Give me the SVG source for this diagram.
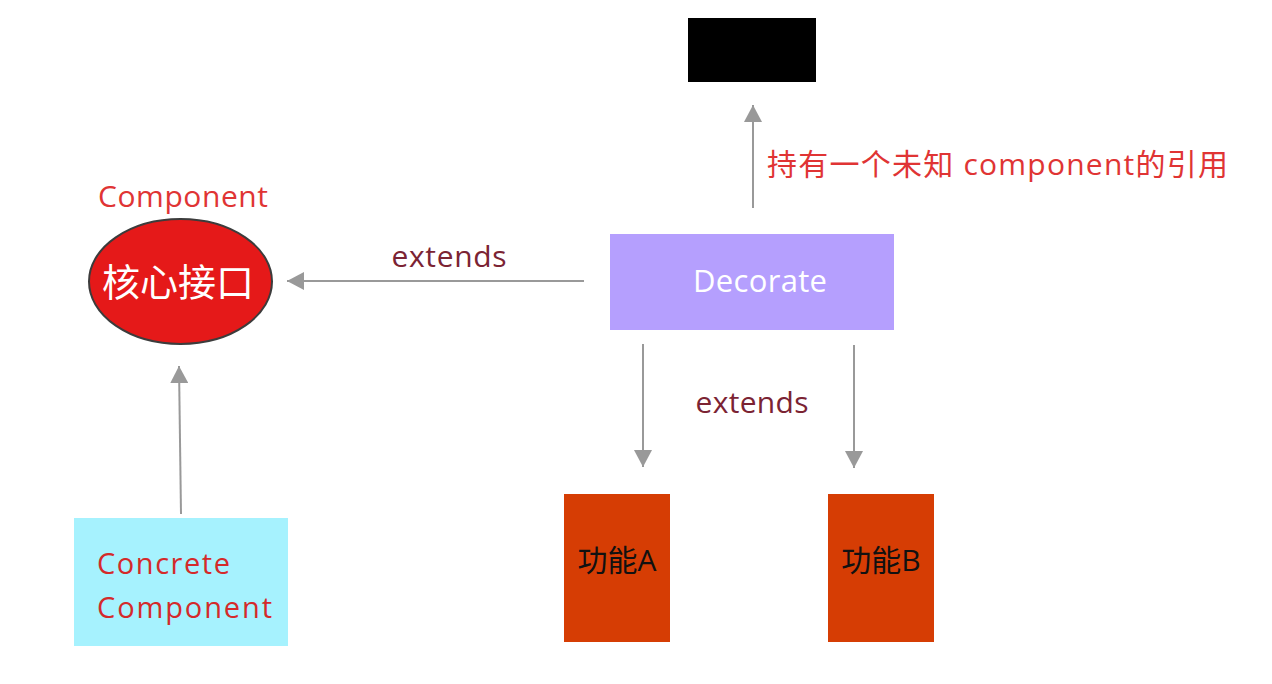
<svg xmlns="http://www.w3.org/2000/svg" width="1272" height="684" viewBox="0 0 1272 684">
<style>
.conn{stroke:#999999;stroke-width:2;fill:none}
.lbl{font-family:"Open Sans","Noto Sans CJK SC",sans-serif;font-size:30px;fill:#7b2333}
.red{font-family:"Open Sans","Noto Sans CJK SC",sans-serif;font-size:30px;fill:#e03434}
.cn{font-family:"Open Sans","Noto Sans CJK SC",sans-serif}
</style>
<defs>
<marker id="ah" markerWidth="17" markerHeight="18" refX="17" refY="9" orient="auto" markerUnits="userSpaceOnUse">
<path d="M0,0 L17,9 L0,18 Z" fill="#999999"/>
</marker>
</defs>
<rect width="1272" height="684" fill="#ffffff"/>
<g id="connectors">
<line class="conn" x1="753" y1="208" x2="753" y2="105" marker-end="url(#ah)"/>
<line class="conn" x1="584" y1="281" x2="287" y2="281" marker-end="url(#ah)"/>
<line class="conn" x1="643" y1="344" x2="643" y2="467" marker-end="url(#ah)"/>
<line class="conn" x1="854" y1="345" x2="854" y2="468" marker-end="url(#ah)"/>
<line class="conn" x1="181" y1="514" x2="179" y2="366" marker-end="url(#ah)"/>
<text class="lbl" x="449" y="267" text-anchor="middle" textLength="115">extends</text>
<text class="lbl" x="752" y="413" text-anchor="middle" textLength="113">extends</text>
<text class="red" x="767" y="175" textLength="461">持有一个未知 component的引用</text>
</g>
<g id="component">
<text class="red" x="183" y="207" text-anchor="middle" textLength="170">Component</text>
<ellipse cx="180.5" cy="281.5" rx="91.5" ry="62.5" fill="#e51919" stroke="#3c3c3c" stroke-width="2"/>
<text class="cn" x="178" y="296" text-anchor="middle" font-size="38" fill="#ffffff">核心接口</text>
</g>
<g id="unknown">
<rect x="688" y="18" width="128" height="64" fill="#000000"/>
</g>
<g id="decorate">
<rect x="610" y="234" width="284" height="96" fill="#b59ffe"/>
<text x="760" y="292" text-anchor="middle" font-family="Open Sans, sans-serif" font-size="31" fill="#ffffff" textLength="134">Decorate</text>
</g>
<g id="funcA">
<rect x="564" y="494" width="106" height="148" fill="#d63d04"/>
<text class="cn" x="617" y="571" text-anchor="middle" font-size="30" fill="#111111">功能A</text>
</g>
<g id="funcB">
<rect x="828" y="494" width="106" height="148" fill="#d63d04"/>
<text class="cn" x="881" y="571" text-anchor="middle" font-size="30" fill="#111111">功能B</text>
</g>
<g id="concrete">
<rect x="74" y="518" width="214" height="128" fill="#a6f2fe"/>
<text x="97" y="574" font-family="Open Sans, sans-serif" font-size="29" fill="#d42a2a" textLength="133">Concrete</text>
<text x="97" y="618" font-family="Open Sans, sans-serif" font-size="29" fill="#d42a2a" textLength="175">Component</text>
</g>
</svg>
